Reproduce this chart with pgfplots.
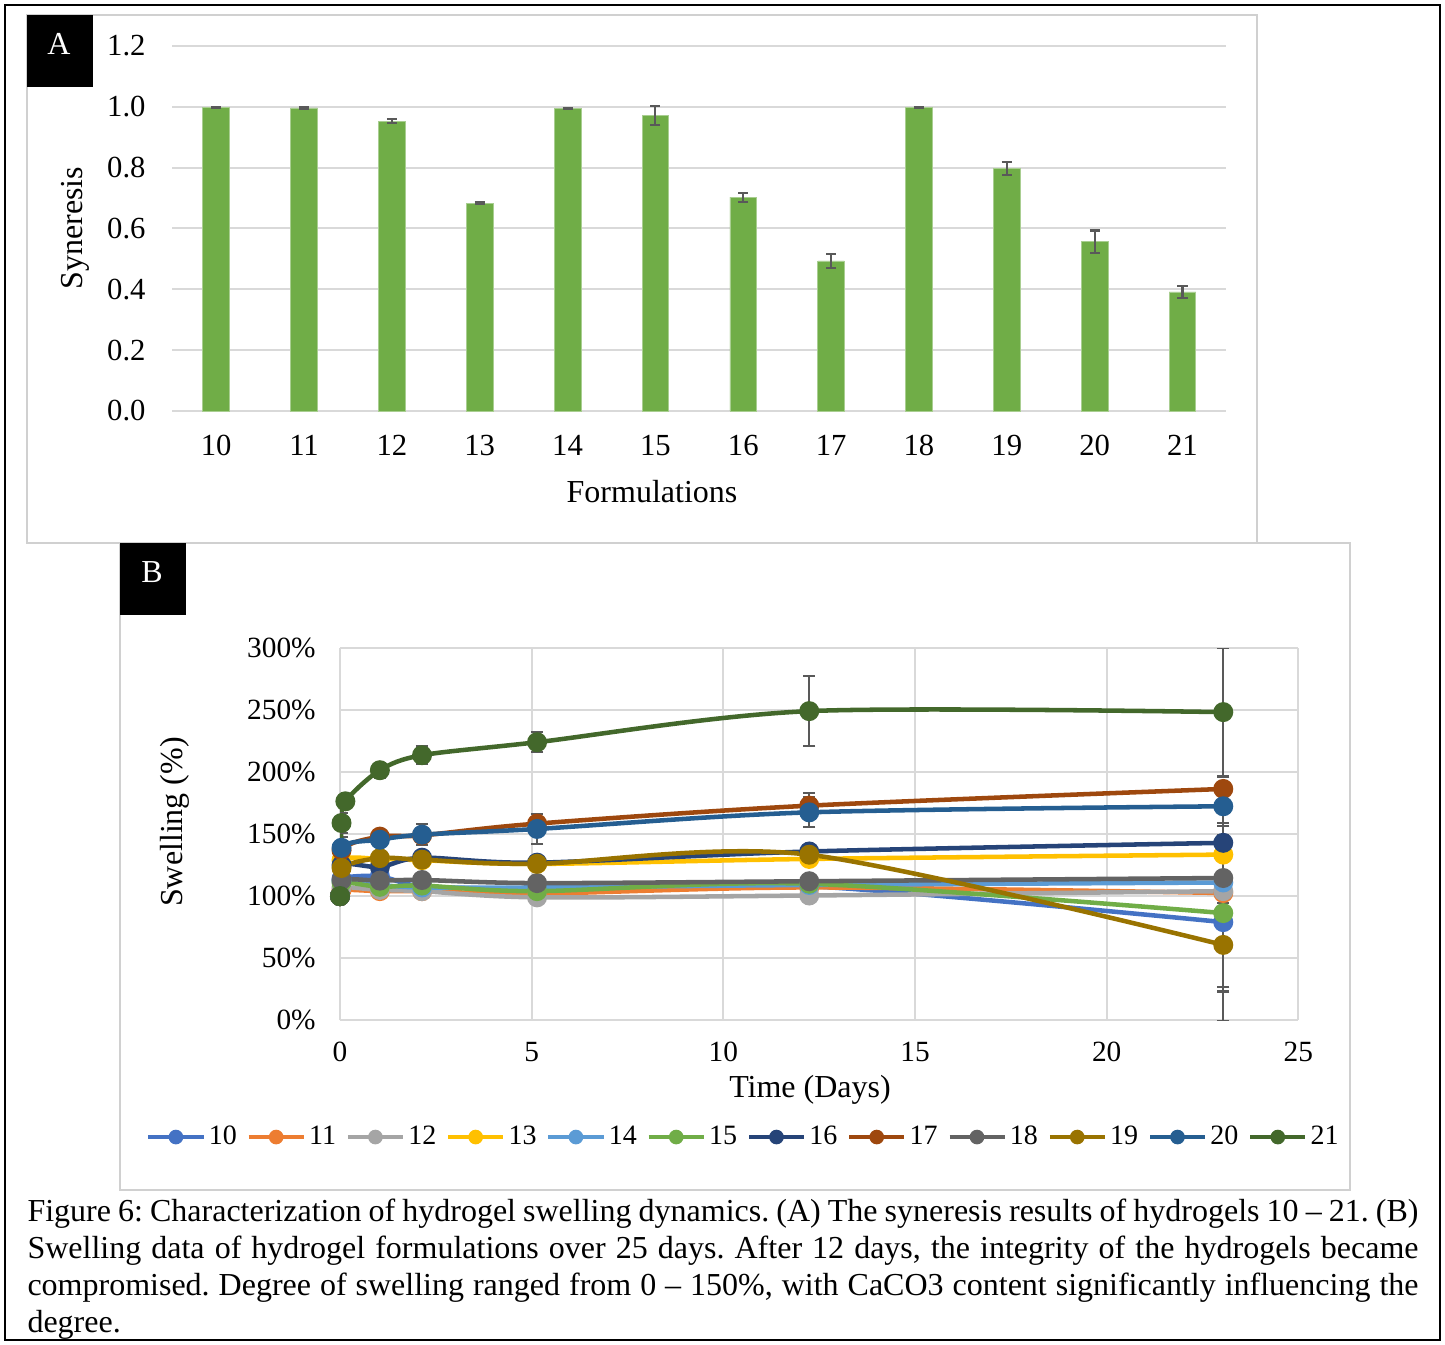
\documentclass[border=0pt]{standalone}
\usepackage{fontspec}
\setmainfont{Liberation Serif}
\usepackage{pgfplots}
\pgfplotsset{compat=1.18}
\definecolor{c10}{HTML}{4472C4}
\definecolor{c11}{HTML}{ED7D31}
\definecolor{c12}{HTML}{A5A5A5}
\definecolor{c13}{HTML}{FFC000}
\definecolor{c14}{HTML}{5B9BD5}
\definecolor{c15}{HTML}{70AD47}
\definecolor{c16}{HTML}{264478}
\definecolor{c17}{HTML}{9E480E}
\definecolor{c18}{HTML}{636363}
\definecolor{c19}{HTML}{997300}
\definecolor{c20}{HTML}{255E91}
\definecolor{c21}{HTML}{43682B}
\definecolor{gridgray}{HTML}{D9D9D9}
\definecolor{errgray}{HTML}{595959}
\definecolor{framegray}{HTML}{D0D0D0}

\pgfplotstableread{
x y e
0 0.997 0.002
1 0.996 0.002
2 0.953 0.007
3 0.683 0.003
4 0.995 0.002
5 0.971 0.032
6 0.7025 0.015
7 0.493 0.023
8 0.997 0.002
9 0.797 0.021
10 0.556 0.037
11 0.391 0.020
}\syneresis

\pgfplotsset{
  sw/.style={color=#1, mark=*, mark size=3.5pt, line width=1.7pt, smooth,
    mark options={fill=#1, draw=#1, line width=0.5pt}},
  ebars/.style={error bars/.cd, y dir=both, y explicit,
    error bar style={color=errgray, line width=0.8pt},
    error mark options={rotate=90, mark size=2.3pt, line width=0.8pt, color=errgray}},
}

\begin{document}
\frenchspacing
\begin{tikzpicture}
\begin{scope}[x=0.375pt,y=-0.375pt]
\path[use as bounding box] (0,0) rectangle (1445,1344);
\draw[line width=0.8pt] (5,5) rectangle (1440,1340);
\draw[framegray, line width=0.5pt] (27,15) rectangle (1257,543);
\draw[framegray, line width=0.5pt] (120,543) rectangle (1350,1190);
\fill[black] (27,15) rectangle (93,87);
\node[white, font=\fontsize{12}{14}\selectfont] at (59,44) {A};
\fill[black] (120,543) rectangle (186,615);
\node[white, font=\fontsize{12}{14}\selectfont] at (152,572) {B};
\node[rotate=90, font=\fontsize{12}{14}\selectfont] at (75,228) {Syneresis};
\node[font=\fontsize{12}{14}\selectfont] at (652,492) {Formulations};
\node[rotate=90, font=\fontsize{12}{14}\selectfont] at (175,822) {Swelling (\%)};
\node[font=\fontsize{12}{14}\selectfont] at (810,1090) {Time (Days)};
\node[anchor=north west, inner sep=0pt, text width=521.6pt, align=justify,
  font=\fontsize{12}{13.9}\selectfont] at (27,1198)
 {Figure 6: Characterization of hydrogel swelling dynamics. (A) The syneresis results of hydrogels 10 – 21. (B)\linebreak
 Swelling data of hydrogel formulations over 25 days. After 12 days, the integrity of the hydrogels became\linebreak
 compromised. Degree of swelling ranged from 0 – 150\%, with CaCO3 content significantly influencing the\linebreak
 degree.};
\end{scope}

% Panel A
\begin{axis}[at={(64.6pt,-154.1pt)}, anchor=south west, scale only axis,
  width=395.3pt, height=136.9pt,
  /pgf/number format/assume math mode=true,
  xmin=-0.5, xmax=11.5, ymin=0, ymax=1.2,
  xtick={0,...,11}, xticklabels={10,11,12,13,14,15,16,17,18,19,20,21},
  ytick={0,0.2,0.4,0.6,0.8,1.0,1.2},
  ticklabel style={font=\fontsize{11.5}{13}\selectfont},
  yticklabel style={/pgf/number format/fixed, /pgf/number format/fixed zerofill,
    /pgf/number format/precision=1, xshift=-6.5pt},
  xticklabel style={yshift=-5.6pt},
  axis line style={draw=none}, major tick length=0pt,
  ymajorgrids, grid style={color=gridgray, line width=0.7pt},
  clip=false]
\addplot[ybar, bar width=10pt, fill=c15, draw=c15!60!white, line width=0.3pt,
  error bars/.cd, y dir=both, y explicit,
  error bar style={color=errgray, line width=0.8pt},
  error mark options={rotate=90, mark size=1.9pt, line width=0.8pt, color=errgray}]
  table[x=x, y=y, y error=e] {\syneresis};
\end{axis}

% Panel B
\begin{axis}[at={(127.5pt,-382.5pt)}, anchor=south west, scale only axis,
  width=359.4pt, height=139.4pt,
  /pgf/number format/assume math mode=true,
  xmin=0, xmax=25, ymin=0, ymax=300,
  xtick={0,5,...,25}, ytick={0,50,...,300},
  yticklabel={\pgfmathprintnumber{\tick}\%},
  ticklabel style={font=\fontsize{11}{13}\selectfont},
  yticklabel style={xshift=-5.6pt},
  xticklabel style={yshift=-4.8pt},
  axis line style={draw=none}, major tick length=0pt,
  grid=major, grid style={color=gridgray, line width=0.7pt},
  legend columns=12,
  legend style={at={(0.4216,-0.3148)}, anchor=center, draw=none, fill=none,
    font=\fontsize{10.5}{12}\selectfont, nodes={inner sep=1.2pt},
    /tikz/every even column/.append style={column sep=2.4pt}},
  legend image code/.code={\draw[mark repeat=2,mark phase=2,#1,mark size=2.5pt] plot coordinates {(0pt,0pt) (10.3pt,0pt) (20.6pt,0pt)};},
  ]
\addplot[sw=c10, ebars] table[x=x,y=y,y error=e] {
x y e
0 100 0
0.04 114 0
1.04 116 0
2.14 108 0
5.14 106 0
12.24 108 0
23.04 79 80
};
\addlegendentry{10}
\addplot[sw=c11] table {
0 100
0.04 105
1.04 104
2.14 104
5.14 102
12.24 107
23.04 102.5
};
\addlegendentry{11}
\addplot[sw=c12] table {
0 100
0.04 107
1.04 105
2.14 104
5.14 99
12.24 100.5
23.04 104
};
\addlegendentry{12}
\addplot[sw=c13] table {
0 100
0.04 129
1.04 130
2.14 129
5.14 126
12.24 130
23.04 133.5
};
\addlegendentry{13}
\addplot[sw=c14] table {
0 100
0.04 112
1.04 109
2.14 107
5.14 107
12.24 109
23.04 111
};
\addlegendentry{14}
\addplot[sw=c15, ebars] table[x=x,y=y,y error=e] {
x y e
0 100 0
0.04 111 0
1.04 107.5 0
2.14 108.5 0
5.14 104 0
12.24 110 0
23.04 86.3 63.3
};
\addlegendentry{15}
\addplot[sw=c16, ebars] table[x=x,y=y,y error=e] {
x y e
0 100 0
0.04 125 0
1.04 123.5 0
2.14 131 4
5.14 127 0
12.24 136 5.5
23.04 143 6.5
};
\addlegendentry{16}
\addplot[sw=c17, ebars] table[x=x,y=y,y error=e] {
x y e
0 100 0
0.04 137 0
1.04 148 5
2.14 149 5
5.14 158.5 8
12.24 173 10
23.04 186.5 0
};
\addlegendentry{17}
\addplot[sw=c18] table {
0 100
0.04 113
1.04 112.5
2.14 113
5.14 110.5
12.24 112
23.04 114.6
};
\addlegendentry{18}
\addplot[sw=c19, ebars] table[x=x,y=y,y error=e] {
x y e
0 100 0
0.04 122.7 0
1.04 130.7 0
2.14 129.4 0
5.14 126.1 0
12.24 133.4 0
23.04 60.6 33.6
};
\addlegendentry{19}
\addplot[sw=c20, ebars] table[x=x,y=y,y error=e] {
x y e
0 100 0
0.04 139 9
1.04 145.5 5
2.14 149.6 8.5
5.14 154.2 12
12.24 167.6 12
23.04 172.5 16
};
\addlegendentry{20}
\addplot[sw=c21, ebars] table[x=x,y=y,y error=e] {
x y e
0 100 0
0.04 159 8
0.14 176.5 0
1.04 201.6 6
2.14 213.7 7
5.14 224.2 8
12.24 249.3 28.5
23.04 248.5 52
};
\addlegendentry{21}
\end{axis}
\end{tikzpicture}
\end{document}
